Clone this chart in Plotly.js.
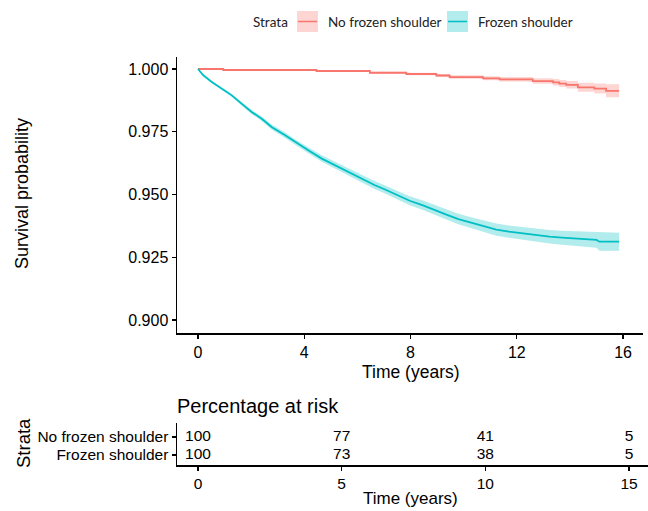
<!DOCTYPE html>
<html>
<head>
<meta charset="utf-8">
<script src="https://cdn.plot.ly/plotly-3.0.1.min.js"></script>
<style>html,body{margin:0;padding:0;background:#fff}#chart{width:648px;height:511px}</style>
</head>
<body>
<div id="chart"></div>
<script>
// ---- Data ----
const groups = ["No frozen shoulder", "Frozen shoulder"];
const colors = ["#F8766D", "#00BFC4"];
const fills = ["rgba(248,118,109,0.3)", "rgba(0,191,196,0.3)"];

const timeNo = [0, 0.95, 4.46, 6.47, 7.84, 8.97, 9.47, 10.73, 11.35, 12.6, 13.36, 13.6, 13.86, 14.3, 14.92, 15.36, 15.85];
const survNo = [1.0000, 0.9996, 0.9992, 0.9985, 0.9980, 0.9974, 0.9968, 0.9963, 0.9959, 0.9952, 0.9947, 0.9942, 0.9937, 0.9927, 0.9922, 0.9913, 0.9913];
const lowerNo = [1.0000, 0.9994, 0.9989, 0.9981, 0.9975, 0.9968, 0.9961, 0.9955, 0.9950, 0.9941, 0.9934, 0.9928, 0.9922, 0.9909, 0.9902, 0.9887, 0.9887];
const upperNo = [1.0000, 0.9998, 0.9995, 0.9989, 0.9985, 0.9980, 0.9975, 0.9971, 0.9968, 0.9963, 0.9960, 0.9956, 0.9952, 0.9945, 0.9942, 0.9939, 0.9939];

const timeFS = [0, 0.2, 0.52, 0.89, 1.27, 1.64, 2.02, 2.4, 2.77, 3.28, 3.65, 4.15, 4.66, 5.16, 5.66, 6.16, 6.66, 7.0, 7.47, 7.97, 8.47, 8.9, 9.35, 9.8, 10.35, 10.8, 11.23, 11.7, 12.23, 12.7, 13.23, 13.7, 14.24, 14.7, 15.0, 15.11, 15.85];
const survFS = [1.0000, 0.9975, 0.9948, 0.9922, 0.9895, 0.9862, 0.9829, 0.9802, 0.9769, 0.9736, 0.9709, 0.9676, 0.9643, 0.9616, 0.9590, 0.9563, 0.9537, 0.9522, 0.9500, 0.9475, 0.9457, 0.9438, 0.9420, 0.9402, 0.9385, 0.9372, 0.9360, 0.9352, 0.9345, 0.9338, 0.9332, 0.9328, 0.9324, 0.9320, 0.9319, 0.9312, 0.9312];
const lowerFS = [1.0000, 0.9973, 0.9944, 0.9917, 0.9889, 0.9855, 0.9821, 0.9793, 0.9759, 0.9725, 0.9698, 0.9664, 0.9630, 0.9602, 0.9576, 0.9548, 0.9521, 0.9506, 0.9483, 0.9457, 0.9438, 0.9418, 0.9400, 0.9381, 0.9363, 0.9349, 0.9336, 0.9328, 0.9320, 0.9312, 0.9305, 0.9300, 0.9294, 0.9289, 0.9288, 0.9276, 0.9276];
const upperFS = [1.0000, 0.9977, 0.9952, 0.9927, 0.9901, 0.9869, 0.9837, 0.9811, 0.9779, 0.9747, 0.9720, 0.9688, 0.9656, 0.9630, 0.9604, 0.9578, 0.9553, 0.9538, 0.9517, 0.9493, 0.9476, 0.9458, 0.9440, 0.9423, 0.9407, 0.9395, 0.9384, 0.9376, 0.9370, 0.9364, 0.9359, 0.9356, 0.9354, 0.9351, 0.9350, 0.9348, 0.9348];

const yTicks = [0.900, 0.925, 0.950, 0.975, 1.000];
const xTicksMain = [0, 4, 8, 12, 16];

const riskTimes = [0, 5, 10, 15];
const riskNo = [100, 77, 41, 5];
const riskFS = [100, 73, 38, 5];

// ---- Traces ----
const W = 648, H = 511;
const px = v => v / W;
const py = v => 1 - v / H;
const FONT = "Liberation Sans, Arial, sans-serif";
// the frozen-shoulder curve has many tiny steps, so it is drawn as a smooth line
const shapesLine = ["hv", "linear"];

const series = [
  {t: timeNo, s: survNo, lo: lowerNo, hi: upperNo},
  {t: timeFS, s: survFS, lo: lowerFS, hi: upperFS}
];
const traces = [];
series.forEach((d, i) => {
  traces.push({x: d.t, y: d.lo, mode: "lines", line: {width: 0, shape: shapesLine[i]}, hoverinfo: "skip", showlegend: false, xaxis: "x", yaxis: "y"});
  traces.push({x: d.t, y: d.hi, mode: "lines", line: {width: 0, shape: shapesLine[i]}, fill: "tonexty", fillcolor: fills[i], hoverinfo: "skip", showlegend: false, xaxis: "x", yaxis: "y"});
});
series.forEach((d, i) => {
  traces.push({x: d.t, y: d.s, mode: "lines", name: groups[i], line: {color: colors[i], width: 1.8, shape: shapesLine[i]}, showlegend: false, xaxis: "x", yaxis: "y"});
});
// risk table
const numFont = {family: FONT, size: 15.5, color: "#000"};
traces.push({x: riskTimes, y: riskTimes.map(() => 2), mode: "text", text: riskNo.map(String), textposition: "middle center", textfont: numFont, showlegend: false, xaxis: "x2", yaxis: "y2", hoverinfo: "skip"});
traces.push({x: riskTimes, y: riskTimes.map(() => 1), mode: "text", text: riskFS.map(String), textposition: "middle center", textfont: numFont, showlegend: false, xaxis: "x2", yaxis: "y2", hoverinfo: "skip"});

const axisCommon = {showline: true, linecolor: "#000", linewidth: 1.5, ticks: "outside", ticklen: 4, tickwidth: 1.2, tickcolor: "#000", showgrid: false, zeroline: false, tickfont: {family: FONT, size: 16, color: "#000"}};

const shapes = [];
const annotations = [];
// manual legend
const LFONT = {family: "Lato, sans-serif", size: 13.5, color: "#222"};
const legendItems = [
  {x0: 297, label: "No frozen shoulder", lx: 326, i: 0},
  {x0: 447, label: "Frozen shoulder", lx: 476, i: 1}
];
legendItems.forEach(it => {
  shapes.push({type: "rect", xref: "paper", yref: "paper", x0: px(it.x0), x1: px(it.x0 + 21), y0: py(32), y1: py(11), fillcolor: fills[it.i], line: {width: 0}});
  shapes.push({type: "line", xref: "paper", yref: "paper", x0: px(it.x0 + 1), x1: px(it.x0 + 20), y0: py(21.5), y1: py(21.5), line: {color: colors[it.i], width: 1.5}});
  annotations.push({xref: "paper", yref: "paper", x: px(it.lx), y: py(21.5), xanchor: "left", yanchor: "middle", text: it.label, showarrow: false, font: LFONT});
});
annotations.push({xref: "paper", yref: "paper", x: px(251), y: py(21.5), xanchor: "left", yanchor: "middle", text: "Strata", showarrow: false, font: LFONT});

// titles
annotations.push({xref: "paper", yref: "paper", x: px(22), y: py(194), xanchor: "center", yanchor: "middle", textangle: -90, text: "Survival probability", showarrow: false, font: {family: FONT, size: 18, color: "#000"}});
annotations.push({xref: "paper", yref: "paper", x: px(411), y: py(372), xanchor: "center", yanchor: "middle", text: "Time (years)", showarrow: false, font: {family: FONT, size: 17.5, color: "#000"}});
annotations.push({xref: "paper", yref: "paper", x: px(175), y: py(406), xanchor: "left", yanchor: "middle", text: "Percentage at risk", showarrow: false, font: {family: FONT, size: 20, color: "#000"}});
annotations.push({xref: "paper", yref: "paper", x: px(23), y: py(443), xanchor: "center", yanchor: "middle", textangle: -90, text: "Strata", showarrow: false, font: {family: FONT, size: 18.5, color: "#000"}});
annotations.push({xref: "paper", yref: "paper", x: px(410), y: py(498), xanchor: "center", yanchor: "middle", text: "Time (years)", showarrow: false, font: {family: FONT, size: 17, color: "#000"}});

const layout = {
  width: W, height: H,
  margin: {l: 0, r: 0, t: 0, b: 0},
  paper_bgcolor: "#fff", plot_bgcolor: "#fff",
  showlegend: false,
  xaxis: Object.assign({}, axisCommon, {domain: [px(177), px(643)], range: [-0.79, 16.75], tickvals: xTicksMain, ticktext: xTicksMain.map(String), anchor: "y"}),
  yaxis: Object.assign({}, axisCommon, {domain: [py(333), py(57)], range: [0.89482, 1.00478], tickvals: yTicks, ticktext: yTicks.map(v => v.toFixed(3)), anchor: "x"}),
  xaxis2: Object.assign({}, axisCommon, {domain: [px(177), 1], range: [-0.731, 15.66], tickvals: riskTimes, ticktext: riskTimes.map(String), anchor: "y2", tickfont: {family: FONT, size: 15.5, color: "#000"}}),
  yaxis2: Object.assign({}, axisCommon, {domain: [py(465), py(423)], range: [0.444, 2.78], tickvals: [1, 2], ticktext: [groups[1], groups[0]], anchor: "x2", tickfont: {family: FONT, size: 15.5, color: "#000"}}),
  shapes: shapes,
  annotations: annotations
};

Plotly.newPlot("chart", traces, layout, {displayModeBar: false, staticPlot: true});
</script>
</body>
</html>
